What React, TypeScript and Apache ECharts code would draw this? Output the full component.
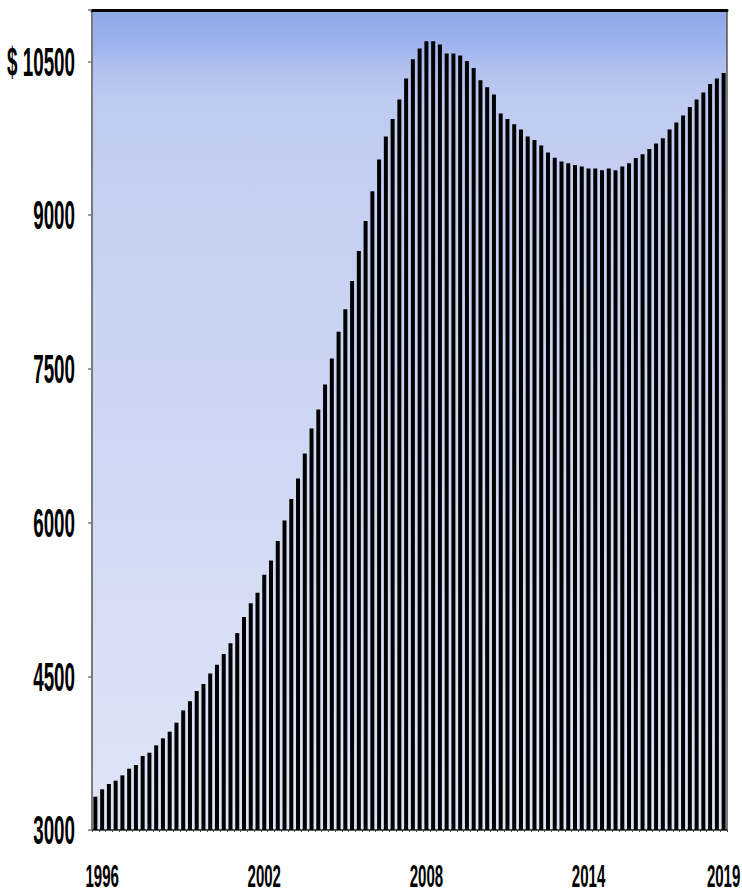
import { useEffect, useRef } from "react";
import * as echarts from "echarts";

// Quarterly categories, 1996 Q1 through 2019 Q2
const FIRST_YEAR = 1996;
const LAST_YEAR = 2019;
const LAST_QUARTER = 2;
const quarters: string[] = [];
for (let y = FIRST_YEAR; y <= LAST_YEAR; y++) {
  for (let q = 1; q <= 4; q++) {
    if (y === LAST_YEAR && q > LAST_QUARTER) break;
    quarters.push(`${y} Q${q}`);
  }
}

// Dollar values per quarter
const values = [
  3325, 3397, 3449, 3481, 3533, 3598, 3634, 3722,
  3754, 3826, 3894, 3959, 4047, 4167, 4255, 4356,
  4424, 4528, 4612, 4717, 4821, 4921, 5077, 5211,
  5314, 5490, 5630, 5819, 6020, 6230, 6430, 6674,
  6918, 7103, 7347, 7600, 7860, 8081, 8357, 8650,
  8942, 9232, 9541, 9766, 9937, 10126, 10331, 10520,
  10624, 10695, 10695, 10663, 10575, 10575, 10556, 10503,
  10435, 10315, 10246, 10175, 9990, 9937, 9886, 9834,
  9766, 9732, 9678, 9610, 9559, 9522, 9505, 9489,
  9473, 9454, 9454, 9437, 9454, 9437, 9473, 9505,
  9557, 9593, 9645, 9697, 9749, 9834, 9902, 9970,
  10054, 10126, 10195, 10279, 10331, 10386,
];

const yTicks = [3000, 4500, 6000, 7500, 9000, 10500];
const Y_MIN = 3000;
const Y_MAX = 11000;
const Y_STEP = 1500;

// Year captions sit under the second quarter of each labelled year
const yearTicks = ["1996 Q2", "2002 Q2", "2008 Q2", "2014 Q2", "2019 Q2"];

const FONT_FAMILY = '"Liberation Sans", Arial, sans-serif';
const SQUEEZE = 0.47;

export default function App() {
  const ref = useRef<HTMLDivElement>(null);

  useEffect(() => {
    const el = ref.current;
    if (!el) return;
    const chart = echarts.init(el, null, { renderer: "svg" });

    const plotFill = new echarts.graphic.LinearGradient(0, 0, 0, 1, [
      { offset: 0, color: "#8fa7e8" },
      { offset: 0.04, color: "#9db2ec" },
      { offset: 0.07, color: "#b0c0ef" },
      { offset: 0.11, color: "#bfcaf1" },
      { offset: 0.23, color: "#c5d0f2" },
      { offset: 0.48, color: "#ccd6f3" },
      { offset: 0.72, color: "#d6ddf5" },
      { offset: 1, color: "#dfe4f8" },
    ]);

    chart.setOption({
      animation: false,
      grid: {
        left: 92,
        right: 15,
        top: 10,
        bottom: 62,
        show: true,
        backgroundColor: plotFill,
        borderWidth: 0,
      },
      xAxis: [
        {
          type: "category",
          data: quarters,
          axisLine: { show: true, lineStyle: { color: "#222", width: 1.5 } },
          axisTick: { show: true, length: 2, interval: 0, lineStyle: { color: "#444" } },
          axisLabel: { show: false },
          splitLine: { show: false },
        },
        {
          type: "category",
          data: quarters,
          position: "top",
          axisLine: { show: true, lineStyle: { color: "#000", width: 3 } },
          axisTick: { show: false },
          axisLabel: { show: false },
        },
      ],
      yAxis: [
        {
          type: "value",
          min: Y_MIN,
          max: Y_MAX,
          interval: Y_STEP,
          axisLine: { show: true, lineStyle: { color: "#7a7a7a", width: 2 } },
          axisTick: { show: true, length: 4, lineStyle: { color: "#7a7a7a", width: 1.5 } },
          axisLabel: { show: false },
          splitLine: { show: false },
        },
        {
          type: "value",
          position: "right",
          min: Y_MIN,
          max: Y_MAX,
          interval: Y_STEP,
          axisLine: { show: true, lineStyle: { color: "#555", width: 1.5 } },
          axisTick: { show: false },
          axisLabel: { show: false },
          splitLine: { show: false },
        },
      ],
      series: [
        {
          type: "bar",
          data: values,
          barWidth: 4,
          xAxisIndex: 0,
          yAxisIndex: 0,
          itemStyle: { color: "#000" },
        },
      ],
    });

    // Tall, narrow axis captions: positioned from the axes' own scales
    const labels: any[] = [];
    yTicks.forEach((v) => {
      const py = chart.convertToPixel({ yAxisIndex: 0 }, v) as number;
      const text = v === 10500 ? `$ ${v}` : `${v}`;
      labels.push({
        type: "text",
        x: 75,
        y: py + 1,
        scaleX: SQUEEZE,
        style: {
          text,
          font: `bold 40px ${FONT_FAMILY}`,
          fill: "#000",
          textAlign: "right",
          textVerticalAlign: "middle",
          align: "right",
          verticalAlign: "middle",
        },
      });
    });
    const axisY = chart.convertToPixel({ yAxisIndex: 0 }, Y_MIN) as number;
    yearTicks.forEach((name) => {
      const px = chart.convertToPixel({ xAxisIndex: 0 }, quarters.indexOf(name)) as number;
      labels.push({
        type: "text",
        x: px,
        y: axisY + 45,
        scaleX: SQUEEZE,
        style: {
          text: name.slice(0, 4),
          font: `bold 32px ${FONT_FAMILY}`,
          fill: "#000",
          textAlign: "center",
          textVerticalAlign: "middle",
          align: "center",
          verticalAlign: "middle",
        },
      });
    });
    chart.setOption({ graphic: { elements: labels } });

    return () => chart.dispose();
  }, []);

  return (
    <div
      ref={ref}
      style={{ position: "absolute", left: 0, top: 0, width: 742, height: 892, background: "#fff" }}
    />
  );
}
